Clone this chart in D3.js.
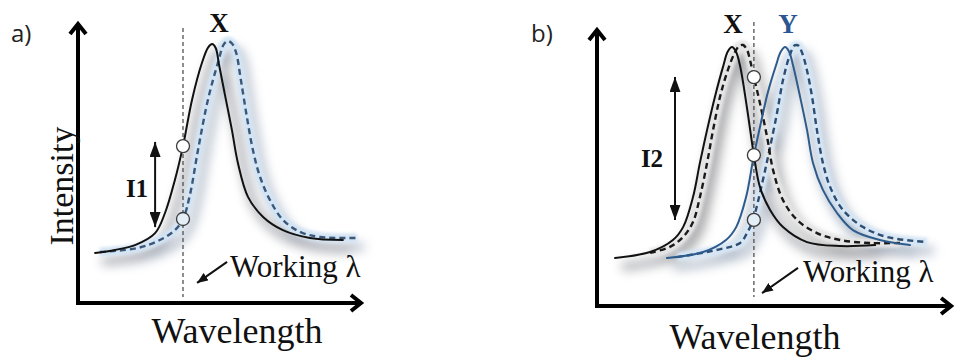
<!DOCTYPE html>
<html>
<head>
<meta charset="utf-8">
<script src="https://cdn.jsdelivr.net/npm/d3@7"></script>
<style>
  body { margin: 0; background: #fff; }
  svg { display: block; }
</style>
</head>
<body>
<svg id="chart" width="956" height="357"></svg>
<script>
// ---- Spectra, as [relative wavelength, intensity] pairs ----
// Panel a: peak X before (solid) and after (dashed) the shift
const specA_X = [[5.7,16.7],[12.3,17.7],[19,19.3],[25.7,23.3],[29,30],[32.3,41],[35,52.3],[38,67.7],[41.3,80],[43.4,85.2],[44.7,86.3],[45.9,85],[47,79.5],[49,69.3],[51.3,57.7],[53.3,46.7],[56.7,35.3],[61.7,28.7],[68.3,24.3],[77.3,21.7],[88.3,21]];
const specA_Xshift = [[7.3,17],[19.7,18.3],[27.3,21],[32.3,24.3],[35,28],[37.3,36],[40,51],[43.3,67.7],[46.7,80.3],[48.6,86.2],[50,87.3],[51.4,86.4],[52.7,83.5],[54.3,74.3],[56.3,62],[58.3,51],[60.7,42],[64,34.3],[68.3,27.7],[74,23.7],[80.7,22],[93,21.7]];

// Panel b: peaks X and Y, each before (solid) and after (dashed) the shift
const specB_X = [[6,16],[17.7,18],[25.3,22],[28.7,26.3],[32,36.3],[34.3,47.7],[36.7,58.7],[39.3,69.7],[42,79.7],[43.6,84.8],[45,86.3],[46.3,84.8],[47.7,80],[50,66],[52.3,50.3],[54.3,39.7],[57.7,32],[62,26.3],[70,21.3],[81,20],[92.7,20.3]];
const specB_Xshift = [[17.7,17.7],[24.3,19.7],[28.7,23],[32,28],[34.3,36.3],[36.7,47.7],[38.7,58.7],[41,69.7],[43.3,77.7],[45.7,84],[47.3,86.6],[48.7,87],[50,85.4],[51,82],[52.3,76.3],[54.3,67.7],[56.7,56.3],[58.7,45.3],[62,35.3],[66.7,28.7],[73.3,24.3],[81,22],[91,21],[101,21]];
const specB_Y = [[23.3,16],[35.4,18],[43,22],[46.4,26.3],[49.7,36.3],[52.3,50.3],[54.4,60],[56.9,71],[59.6,80],[61.3,84.8],[62.7,86.3],[64,84.8],[65.4,80],[67.7,69.7],[70,58.7],[72,47.7],[75.3,38.7],[80,31],[85.3,25.3],[94.3,22],[104.3,20.3]];
const specB_Yshift = [[26.7,16.3],[40,18.7],[47.7,21],[50,24.3],[52,28.7],[55.3,42],[57.7,53],[60,64.3],[62,75.3],[64.2,83.4],[65.8,86.8],[67.1,86.8],[68.5,84],[70,78.5],[71.7,69.7],[73.3,58.7],[75.3,47.7],[77.7,39.7],[82,32],[88.7,26.3],[96.7,23],[110,21.3]];

// Working wavelength of each panel and the read-out intensities on it
const workingA = 35;
const workingB = 52.3;
const readA = [52.3, 28];          // X before, X after
const readB = [76.3, 50.3, 28.7];  // X after, X/Y crossing, Y after
const readTintA = [false, true];
const readTintB = [false, false, true];

// Intensity-change arrows: [x, top, bottom]
const arrowI1 = [25.7, 53.7, 25.3];
const arrowI2 = [26, 76.3, 28.7];

// Axis extents [wavelength max, intensity max]
const extentA = [95, 93.7];
const extentB = [118.7, 92.7];

const svg = d3.select("#chart");
const defs = svg.append("defs");

defs.append("filter").attr("id", "soft")
  .attr("x", "-30%").attr("y", "-30%").attr("width", "160%").attr("height", "160%")
  .append("feGaussianBlur").attr("stdDeviation", 5.5);
defs.append("filter").attr("id", "halo")
  .attr("x", "-10%").attr("y", "-10%").attr("width", "120%").attr("height", "120%")
  .append("feGaussianBlur").attr("stdDeviation", 1.5);

function headMarker(id, w, l) {
  defs.append("marker").attr("id", id)
    .attr("viewBox", `0 ${-w / 2} ${l} ${w}`)
    .attr("refX", l).attr("refY", 0)
    .attr("markerUnits", "userSpaceOnUse")
    .attr("markerWidth", l).attr("markerHeight", w)
    .attr("orient", "auto-start-reverse")
    .append("path").attr("d", `M0,${-w / 2}L${l},0L0,${w / 2}Z`).attr("fill", "#111");
}
headMarker("headBig", 11, 15);
headMarker("headSmall", 9, 11);

const serif = "'Liberation Serif', 'Times New Roman', serif";
const sans = "'Open Sans', 'Noto Sans', sans-serif";

function panel(cfg) {
  const x = d3.scaleLinear().domain([0, cfg.extent[0]]).range([cfg.ox, cfg.ox + 3 * cfg.extent[0]]);
  const y = d3.scaleLinear().domain([0, cfg.extent[1]]).range([cfg.oy, cfg.oy - 3 * cfg.extent[1]]);
  const line = d3.line().x(d => x(d[0])).y(d => y(d[1])).curve(d3.curveCatmullRom.alpha(0.5));
  const g = svg.append("g");

  // soft drop shadow under the spectra
  const sh = g.append("g").attr("filter", "url(#soft)").attr("transform", "translate(7,9)").attr("opacity", 0.7);
  cfg.series.forEach(s => {
    sh.append("path").attr("d", line(s.data)).attr("fill", "none")
      .attr("stroke", s.shadow).attr("stroke-width", 7);
  });

  // halos behind the shifted spectra
  cfg.series.filter(s => s.halo).forEach(s => {
    g.append("path").attr("d", line(s.data)).attr("fill", "none")
      .attr("stroke", s.halo).attr("stroke-width", 9).attr("filter", "url(#halo)");
  });

  // working wavelength
  g.append("line")
    .attr("x1", x(cfg.working)).attr("x2", x(cfg.working))
    .attr("y1", y(cfg.workSpan[0])).attr("y2", y(cfg.workSpan[1]))
    .attr("stroke", "#444").attr("stroke-width", 1.2).attr("stroke-dasharray", "4,3");

  // spectra
  cfg.series.forEach(s => {
    g.append("path").attr("d", line(s.data)).attr("fill", "none")
      .attr("stroke", s.color).attr("stroke-width", s.dash ? 2.4 : 2)
      .attr("stroke-dasharray", s.dash || null)
      .attr("stroke-linecap", s.dash ? "butt" : "round");
  });

  // read-out markers
  cfg.reads.forEach((v, i) => {
    g.append("circle").attr("cx", x(cfg.working)).attr("cy", y(v)).attr("r", 6.5)
      .attr("fill", cfg.tints[i] ? "#e4eef7" : "#fff")
      .attr("stroke", "#3a3a3a").attr("stroke-width", 1.3);
  });

  // axes with chevron heads
  const ax = g.append("g").attr("stroke", "#000").attr("stroke-width", 4).attr("fill", "none");
  const tx = x(cfg.extent[0]), ty = y(cfg.extent[1]);
  ax.append("line").attr("x1", x(0)).attr("x2", tx - 2).attr("y1", y(0)).attr("y2", y(0));
  ax.append("line").attr("x1", x(0)).attr("x2", x(0)).attr("y1", y(0) + 2).attr("y2", ty + 2);
  ax.append("path").attr("d", `M${x(0) - 8},${ty + 12}L${x(0)},${ty + 2}L${x(0) + 8},${ty + 12}`)
    .attr("stroke-linejoin", "miter");
  ax.append("path").attr("d", `M${tx - 12},${y(0) - 8}L${tx - 2},${y(0)}L${tx - 12},${y(0) + 8}`)
    .attr("stroke-linejoin", "miter");

  // intensity change arrow
  const ar = cfg.arrow;
  g.append("line").attr("x1", x(ar[0])).attr("x2", x(ar[0]))
    .attr("y1", y(ar[1])).attr("y2", y(ar[2]))
    .attr("stroke", "#111").attr("stroke-width", 2)
    .attr("marker-start", "url(#headBig)").attr("marker-end", "url(#headBig)");

  // pointer to the working wavelength
  g.append("line")
    .attr("x1", x(cfg.pointer[0])).attr("y1", y(cfg.pointer[1]))
    .attr("x2", x(cfg.pointer[2])).attr("y2", y(cfg.pointer[3]))
    .attr("stroke", "#111").attr("stroke-width", 2)
    .attr("marker-end", "url(#headSmall)");

  // text
  cfg.texts.forEach(t => {
    const el = g.append("text").attr("x", t.x).attr("y", t.y)
      .style("font-family", t.family || serif).style("font-size", t.size + "px")
      .style("font-weight", t.bold ? "bold" : "normal")
      .attr("fill", t.fill || "#111")
      .attr("text-anchor", t.anchor || "middle")
      .text(t.text);
    if (t.rotate) el.attr("transform", `rotate(${t.rotate},${t.x},${t.y})`);
  });
}

panel({
  ox: 78, oy: 303, extent: extentA,
  working: workingA, workSpan: [91.7, 2],
  reads: readA, tints: readTintA,
  arrow: arrowI1,
  pointer: [49.7, 13.7, 39.7, 6.7],
  series: [
    { data: specA_Xshift, color: "#3b5878", dash: "6,4", halo: "#d3e4f4", shadow: "#8c9bb0" },
    { data: specA_X, color: "#111", shadow: "#7d7f88" }
  ],
  texts: [
    { text: "a)", x: 11, y: 42, size: 24, family: sans, anchor: "start", fill: "#222" },
    { text: "X", x: 219, y: 32, size: 27, bold: true },
    { text: "I1", x: 137, y: 197, size: 25, bold: true },
    { text: "Intensity", x: 73, y: 186, size: 34, rotate: -90 },
    { text: "Wavelength", x: 237, y: 343, size: 36 },
    { text: "Working \u03bb", x: 230, y: 277, size: 31, anchor: "start" }
  ]
});

panel({
  ox: 597, oy: 306, extent: extentB,
  working: workingB, workSpan: [94.7, 3],
  reads: readB, tints: readTintB,
  arrow: arrowI2,
  pointer: [67, 12.7, 55, 4.3],
  series: [
    { data: specB_Yshift, color: "#2e4d70", dash: "6,4", halo: "#d6e6f5", shadow: "#8c9bb0" },
    { data: specB_Xshift, color: "#1a1a1a", dash: "6,4", halo: "#e6e6e6", shadow: "#888" },
    { data: specB_Y, color: "#2d5b8c", shadow: "#8c9bb0" },
    { data: specB_X, color: "#111", shadow: "#7d7f88" }
  ],
  texts: [
    { text: "b)", x: 531, y: 42, size: 24, family: sans, anchor: "start", fill: "#222" },
    { text: "X", x: 733, y: 33, size: 27, bold: true },
    { text: "Y", x: 788, y: 33, size: 27, bold: true, fill: "#2b5691" },
    { text: "I2", x: 652, y: 167, size: 25, bold: true },
    { text: "Wavelength", x: 755, y: 349, size: 36 },
    { text: "Working \u03bb", x: 803, y: 282, size: 31, anchor: "start" }
  ]
});
</script>
</body>
</html>
